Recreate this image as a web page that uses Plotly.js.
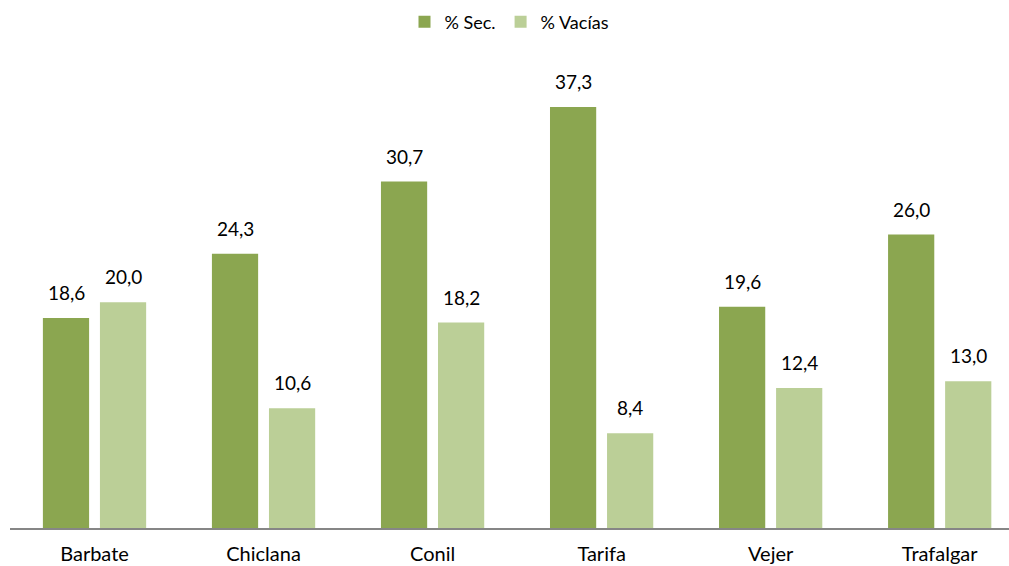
<!DOCTYPE html>
<html>
<head>
<meta charset="utf-8">
<script src="https://cdn.plot.ly/plotly-3.0.1.min.js"></script>
<style>html,body{margin:0;padding:0;background:#fff;}#chart{width:1009px;height:566px;}</style>
</head>
<body>
<div id="chart"></div>
<script>
const categories = ["Barbate", "Chiclana", "Conil", "Tarifa", "Vejer", "Trafalgar"];
const seriesNames = ["% Sec.", "% Vacías"];
const secValues = [18.6, 24.3, 30.7, 37.3, 19.6, 26.0];
const vaciasValues = [20.0, 10.6, 18.2, 8.4, 12.4, 13.0];
const colors = ["#8BA650", "#BBCF97"];

const fmt = v => v.toFixed(1).replace(".", ",");
const font = "Lato, 'Open Sans', sans-serif";

const traces = [secValues, vaciasValues].map((vals, i) => ({
  type: "bar",
  name: seriesNames[i],
  x: categories,
  y: vals,
  marker: {color: colors[i]},
  hoverinfo: "none"
}));

const annotations = [];
[secValues, vaciasValues].forEach((vals, i) => {
  vals.forEach((v, j) => {
    annotations.push({
      x: categories[j], y: v, xref: "x", yref: "y",
      text: fmt(v), showarrow: false,
      xshift: i === 0 ? -28.5 : 28.5,
      yanchor: "bottom", yshift: 12,
      font: {family: font, size: 19, color: "#000"}
    });
  });
});

const layout = {
  width: 1009, height: 566,
  margin: {l: 10, r: 0, t: 54, b: 38, autoexpand: false},
  paper_bgcolor: "#fff", plot_bgcolor: "#fff",
  barmode: "group",
  bargap: 0.325,
  bargroupgap: 0.19,
  showlegend: true,
  legend: {orientation: "h", x: 0.5, xanchor: "center", yref: "container", y: 0.961, yanchor: "middle",
           font: {family: font, size: 18, color: "#000"}, traceorder: "normal"},
  xaxis: {
    range: [-0.5, 5.41], showgrid: false, zeroline: false,
    showline: true, linecolor: "#868686", linewidth: 1.5,
    ticks: "", ticklabelstandoff: 7,
    tickfont: {family: font, size: 20, color: "#000"}, fixedrange: true
  },
  yaxis: {range: [0, 42], visible: false, showgrid: false, zeroline: false, fixedrange: true},
  annotations: annotations
};

Plotly.newPlot("chart", traces, layout, {displayModeBar: false, staticPlot: true});
</script>
</body>
</html>
